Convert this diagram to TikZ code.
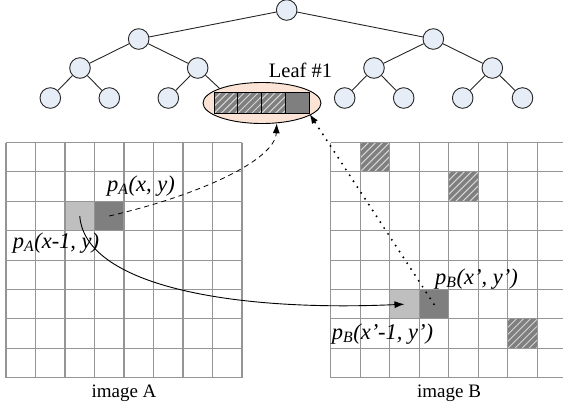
\documentclass[tikz,border=0pt]{standalone}
\usepackage{fontspec}
\setmainfont{Liberation Serif}
\usetikzlibrary{shapes.geometric,arrows.meta}
\definecolor{nodefill}{HTML}{E7EDF7}
\definecolor{peach}{HTML}{FBE4D5}
\definecolor{darkc}{HTML}{7F7F7F}
\definecolor{lightc}{HTML}{BFBFBF}
\definecolor{gridc}{HTML}{959595}
\definecolor{hatchc}{HTML}{D6D6D6}
\tikzset{
  tnode/.style={circle,draw=black!85,line width=0.9pt,fill=nodefill,minimum size=20.6pt,inner sep=0pt},
  tedge/.style={draw=black!85,line width=0.9pt},
  gridline/.style={draw=gridc,line width=1.1pt},
  cellA/.style={minimum width=29.5pt,minimum height=29.4pt,inner sep=0pt,outer sep=0pt},
  hatched/.style={fill=darkc,path picture={\foreach \i in {-6,...,6} \draw[hatchc,line width=1pt] ([xshift=\i*7pt]path picture bounding box.south west) -- ++(45pt,45pt);}},
  lcell/.style={minimum width=23.75pt,minimum height=20.6pt,inner sep=0pt,draw=black,line width=0.8pt},
  lbl/.style={font=\fontsize{22.5}{26}\selectfont\itshape,inner sep=0pt,anchor=base west},
  captxt/.style={font=\fontsize{19}{22}\selectfont,inner sep=0pt,anchor=base},
  arrtip/.style={-{Latex[length=10pt,width=7pt]}},
}
\begin{document}
\begin{tikzpicture}[x=1pt,y=-1pt]
\useasboundingbox (0,0) rectangle (563,408);
% ---------- tree ----------
\node[tnode] (r) at (286.7,10) {};
\node[tnode] (a) at (138.7,39) {};
\node[tnode] (b) at (433.3,39) {};
\node[tnode] (aa) at (80,68) {};
\node[tnode] (ab) at (197.7,68) {};
\node[tnode] (ba) at (374,68) {};
\node[tnode] (bb) at (492.3,68) {};
\node[tnode] (aaa) at (50.3,98) {};
\node[tnode] (aab) at (109.3,98) {};
\node[tnode] (aba) at (168.3,98) {};
\node[tnode] (baa) at (344.7,98) {};
\node[tnode] (bab) at (403.7,98) {};
\node[tnode] (bba) at (462.7,98) {};
\node[tnode] (bbb) at (522.5,98) {};
\node[ellipse,draw=black,line width=0.9pt,fill=peach,minimum width=118pt,minimum height=41pt,inner sep=0pt] (leaf) at (262,103) {};
\node[lcell,hatched] (c1) at (225.9,103) {};
\node[lcell,hatched] (c2) at (249.6,103) {};
\node[lcell,hatched] (c3) at (273.4,103) {};
\node[lcell,fill=darkc] (c4) at (297.1,103) {};
\node[font=\fontsize{20.5}{24}\selectfont,inner sep=0pt,anchor=base] (leaflbl) at (300.5,77) {Leaf \#1};
\draw[tedge] (r) -- (a);
\draw[tedge] (r) -- (b);
\draw[tedge] (a) -- (aa);
\draw[tedge] (a) -- (ab);
\draw[tedge] (b) -- (ba);
\draw[tedge] (b) -- (bb);
\draw[tedge] (aa) -- (aaa);
\draw[tedge] (aa) -- (aab);
\draw[tedge] (ab) -- (aba);
\draw[tedge] (ab) -- (leaf.161);
\draw[tedge] (ba) -- (baa);
\draw[tedge] (ba) -- (bab);
\draw[tedge] (bb) -- (bba);
\draw[tedge] (bb) -- (bbb);
% ---------- image A ----------
\node[cellA,fill=lightc] (Al) at (79.75,216) {};
\node[cellA,fill=darkc] (Ad) at (109.25,216) {};
\foreach \i in {0,...,8} \draw[gridline] (6+\i*29.5,142.5) -- (6+\i*29.5,377.7);
\foreach \j in {0,...,8} \draw[gridline] (6,142.5+\j*29.4) -- (242,142.5+\j*29.4);
% ---------- image B ----------
\node[cellA,hatched] (Bh1) at (375.0,157.2) {};
\node[cellA,hatched] (Bh2) at (463.6,186.6) {};
\node[cellA,hatched] (Bh3) at (522.7,333.6) {};
\node[cellA,fill=lightc] (Bl) at (404.5,304.2) {};
\node[cellA,fill=darkc] (Bd) at (434.0,304.2) {};
\foreach \i in {0,...,7} \draw[gridline] (330.7+\i*29.5,142.5) -- (330.7+\i*29.5,377.7);
\foreach \j in {0,...,8} \draw[gridline] (330.7,142.5+\j*29.4) -- (563,142.5+\j*29.4);
% ---------- labels ----------
\node[lbl] (pA) at (107,191) {p\textsubscript{A}(x, y)};
\node[lbl] (pA1) at (12.7,248.5) {p\textsubscript{A}(x-1, y)};
\node[lbl] (pB) at (435,284) {p\textsubscript{B}(x’, y’)};
\node[lbl] (pB1) at (331.7,339) {p\textsubscript{B}(x’-1, y’)};
\node[captxt] (capA) at (124,397) {image A};
\node[captxt] (capB) at (449,397) {image B};
% ---------- arrows ----------
\draw[arrtip,line width=0.8pt,dash pattern=on 5pt off 4pt] (Ad.center) .. controls (200,195) and (275,160) .. (leaf.-54);
\draw[arrtip,line width=0.9pt] (Al.center) .. controls (85,285) and (230,312) .. (Bl.center);
\draw[arrtip,line width=2.2pt,line cap=round,dash pattern=on 0pt off 7pt] (Bd.center) -- (c4.south east);
\end{tikzpicture}
\end{document}
